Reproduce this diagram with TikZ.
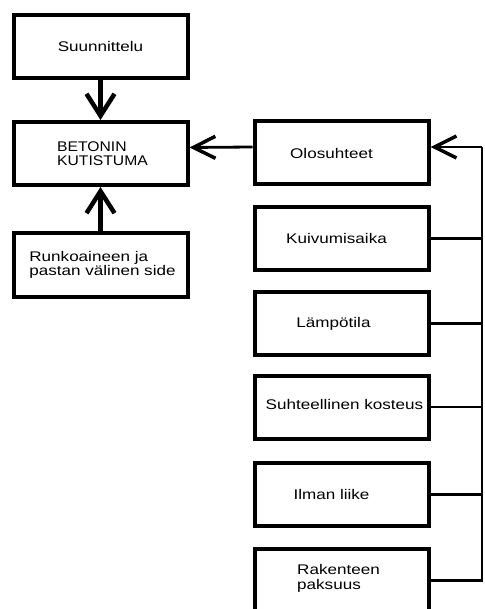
\documentclass[tikz,border=0pt]{standalone}
\usepackage{fontspec}
\setmainfont{Liberation Sans}[FakeStretch=1.22]
\newfontfamily\capsfont{Liberation Sans}[FakeStretch=1.12]
\usetikzlibrary{arrows.meta,positioning}

\begin{document}
\begin{tikzpicture}[x=1pt,y=-1pt,
    box/.style={draw,line width=4pt,minimum width=174pt,minimum height=63pt},
    lbl/.style={font=\fontsize{14}{14.5}\selectfont,align=left,inner sep=0pt},
    thickarrow/.style={line width=4.5pt,-{Straight Barb[length=22pt,width=28pt]}},
    conn/.style={line width=2.8pt},
    barb/.style={line width=2.8pt,-{Straight Barb[length=22pt,width=22pt,line width=3.5pt]}}]

    \useasboundingbox (0,0) rectangle (484,609);
    \fill[white] (0,0) rectangle (484,609);

    % left column
    \node (suunn) at (100.5,46.5) [box] {};
    \node (betonin) at (100.5,153.5) [box] {};
    \node (runko) at (100.5,265) [box] {};

    \node[lbl] (suunnl) at (suunn.center) {Suunnittelu};
    \node[lbl,font=\capsfont\fontsize{14}{14}\selectfont,xshift=2pt] (betoninl) at (betonin.center) {BETONIN\\KUTISTUMA};
    \node[lbl,xshift=2pt] (runkol) at (runko.center) {Runkoaineen ja\\pastan välinen side};

    % right column
    \node (olos) at (341.5,153) [box] {};
    \node (kuiv) at (341.5,238.5) [box] {};
    \node (lamp) at (341.5,323.5) [box] {};
    \node (suht) at (341.5,407) [box] {};
    \node (ilman) at (341.5,494.5) [box] {};
    \node (raken) at (341.5,580.5) [box] {};

    \node[lbl,xshift=-10pt] (olosl) at (olos.center) {Olosuhteet};
    \node[lbl,xshift=-5pt] (kuivl) at (kuiv.center) {Kuivumisaika};
    \node[lbl,xshift=-8pt] (lampl) at (lamp.center) {Lämpötila};
    \node[lbl,xshift=3pt,yshift=3pt] (suhtl) at (suht.center) {Suhteellinen kosteus};
    \node[lbl,xshift=-10pt] (ilmanl) at (ilman.center) {Ilman liike};
    \node[lbl,xshift=-3pt,yshift=2pt] (rakenl) at (raken.center) {Rakenteen\\paksuus};

    % connectors
    \draw[thickarrow] (suunn) -- (betonin);
    \draw[thickarrow] (runko) -- (betonin);
    \draw[barb] ([yshift=6pt]olos.west) -- ([yshift=6pt]betonin.east);

    \coordinate (bus) at (482,147);
    \coordinate (busend) at (482,582);
    \draw[conn] (bus) -- (busend);
    \draw[barb] (bus) -- ([yshift=6pt]olos.east);
    \foreach \b in {kuiv,lamp,suht,ilman,raken}
      \draw[conn] (\b.east) -- (\b.east -| bus);

\end{tikzpicture}
\end{document}
